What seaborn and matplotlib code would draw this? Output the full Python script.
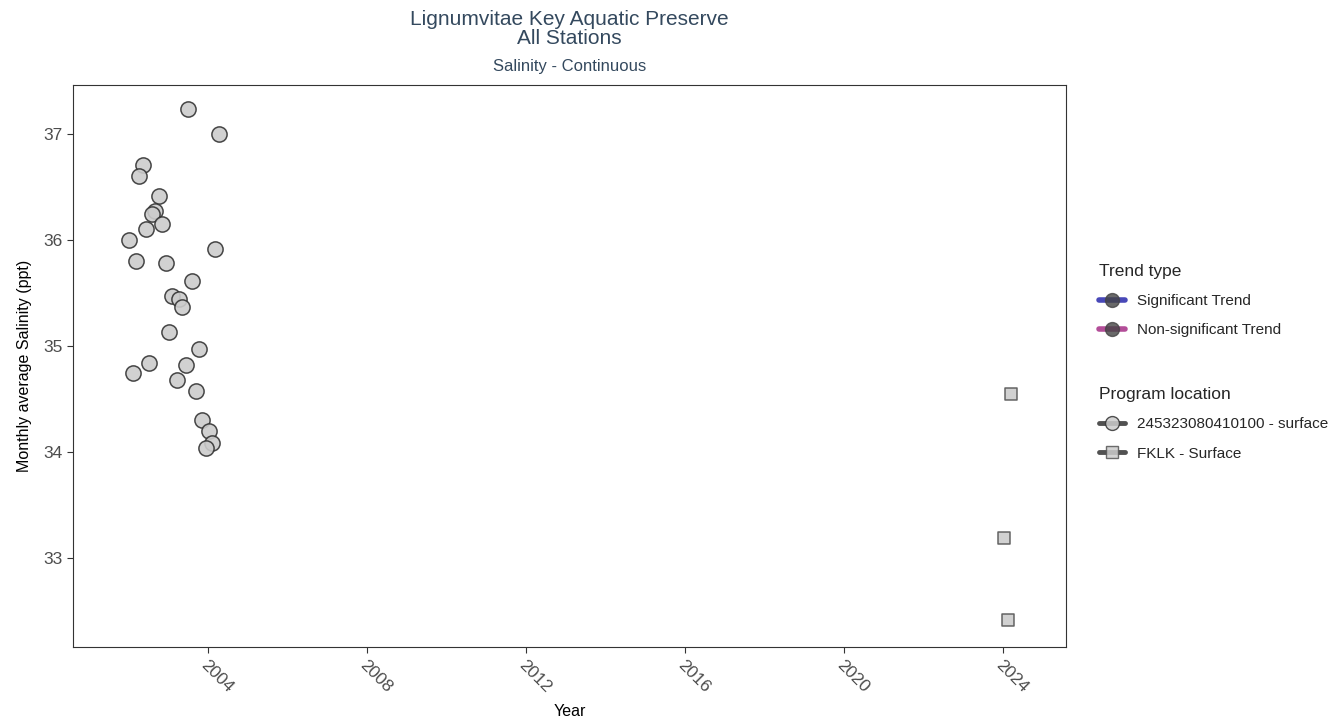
import pandas as pd
import numpy as np
import matplotlib
matplotlib.use('Agg')
import matplotlib.pyplot as plt
import seaborn as sns
from matplotlib.lines import Line2D

# Station 245323080410100 - surface (decimal year, monthly average salinity)
st1_year = [2003.50, 2004.28, 2002.37, 2002.27, 2002.77, 2002.67, 2002.59, 2002.84,
            2002.44, 2002.01, 2004.18, 2002.19, 2002.94, 2003.60, 2003.09, 2003.26,
            2003.34, 2003.01, 2003.77, 2002.52, 2003.45, 2002.11, 2003.21, 2003.69,
            2003.85, 2004.03, 2004.10, 2003.95]
st1_sal = [37.23, 37.00, 36.71, 36.60, 36.41, 36.27, 36.24, 36.15,
           36.10, 36.00, 35.91, 35.80, 35.78, 35.61, 35.47, 35.44,
           35.37, 35.13, 34.97, 34.84, 34.82, 34.74, 34.68, 34.57,
           34.30, 34.20, 34.08, 34.04]

# FKLK - Surface
fklk_year = [2024.20, 2024.03, 2024.13]
fklk_sal = [34.55, 33.19, 32.41]

loc_names = ['245323080410100 - surface', 'FKLK - Surface']
trend_names = ['Significant Trend', 'Non-significant Trend']
x_ticks = [2004, 2008, 2012, 2016, 2020, 2024]
y_ticks = [33, 34, 35, 36, 37]

df = pd.DataFrame({
    'year': st1_year + fklk_year,
    'sal': st1_sal + fklk_sal,
    'loc': [loc_names[0]] * len(st1_year) + [loc_names[1]] * len(fklk_year),
})

sns.set_style('white')
plt.rcParams['font.family'] = ['Liberation Sans', 'DejaVu Sans']

fig = plt.figure(figsize=(13.4, 7.25), dpi=100)
ax = fig.add_axes([0.0545, 0.1076, 0.741, 0.775])

sub = df[df['loc'] == loc_names[0]]
sns.scatterplot(data=sub, x='year', y='sal', marker='o', s=120, color='#cccccc',
                edgecolor='#333333', linewidth=1.1, alpha=0.9, ax=ax, legend=False)
sub = df[df['loc'] == loc_names[1]]
sns.scatterplot(data=sub, x='year', y='sal', marker='s', s=85, color='#cccccc',
                edgecolor='#555555', linewidth=1.1, alpha=0.9, ax=ax, legend=False)

ax.set_xlim(2000.6, 2025.58)
ax.set_ylim(32.16, 37.46)
ax.set_xticks(x_ticks)
ax.set_yticks(y_ticks)
ax.tick_params(axis='both', length=4, width=0.8, color='#333333', labelsize=12.5,
               labelcolor='#4d4d4d', bottom=True, left=True)
for lab in ax.get_xticklabels():
    lab.set_rotation(-45)
    lab.set_ha('left')
    lab.set_va('top')
    lab.set_rotation_mode('anchor')
for sp in ax.spines.values():
    sp.set_color('#333333')
    sp.set_linewidth(0.8)

ax.set_xlabel('Year', fontsize=11.5, color='black', labelpad=6)
ax.set_ylabel('Monthly average Salinity (ppt)', fontsize=11.5, color='black', labelpad=8)

cx = 0.0545 + 0.741 / 2
fig.text(cx, 0.96, 'Lignumvitae Key Aquatic Preserve\nAll Stations', ha='center', va='center',
         fontsize=15, color='#34495e', linespacing=1.0)
fig.text(cx, 0.908, 'Salinity - Continuous', ha='center', va='center', fontsize=12, color='#34495e')

# legends
trend_handles = [
    Line2D([0], [0], color='#1a1aa6', lw=4, alpha=0.8, marker='o', markersize=10,
           markerfacecolor='#444444', markeredgecolor='#444444'),
    Line2D([0], [0], color='#a0207f', lw=4, alpha=0.8, marker='o', markersize=10,
           markerfacecolor='#444444', markeredgecolor='#444444'),
]
loc_handles = [
    Line2D([0], [0], color='#333333', lw=3.5, alpha=0.85, marker='o', markersize=10,
           markerfacecolor='#cccccc', markeredgecolor='#333333'),
    Line2D([0], [0], color='#333333', lw=3.5, alpha=0.85, marker='s', markersize=9,
           markerfacecolor='#cccccc', markeredgecolor='#555555'),
]
fig.legend(trend_handles, trend_names, title='Trend type', loc='upper left',
           bbox_to_anchor=(0.81, 0.655), frameon=False, fontsize=11,
           title_fontsize=12.5, handlelength=1.7, labelspacing=1.0, alignment='left')
fig.legend(loc_handles, loc_names, title='Program location', loc='upper left',
           bbox_to_anchor=(0.81, 0.485), frameon=False, fontsize=11,
           title_fontsize=12.5, handlelength=1.7, labelspacing=1.0, alignment='left')

fig.savefig('out.png', dpi=100)
